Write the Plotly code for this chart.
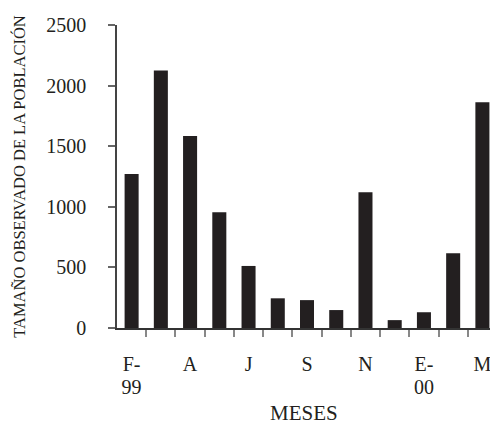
import plotly.graph_objects as go

# Observed population size per sampling month (Feb-99 .. 2000)
samples = list(range(13))
population = [1270, 2125, 1585, 955, 512, 245, 230, 148, 1120, 65, 130, 617, 1862]

# Month labels (first line) and year labels (second line)
label_pos = [0, 2, 4, 6, 8, 10, 12]
label_month = ["F-", "A", "J", "S", "N", "E-", "M"]
year_pos = [0, 10]
label_year = ["99", "00"]

y_ticks = [0, 500, 1000, 1500, 2000, 2500]
boundaries = [i + 0.5 for i in range(12)]

FONT = "Liberation Serif"
INK = "#231f20"
X_RANGE = [-0.5, 12.26]

fig = go.Figure()
fig.add_trace(go.Bar(
    x=samples, y=population, width=0.48,
    marker=dict(color=INK, line=dict(width=0)),
    showlegend=False, hoverinfo="skip",
))
# empty helpers so the label axes are drawn
fig.add_trace(go.Scatter(x=[], y=[], xaxis="x2", showlegend=False))
fig.add_trace(go.Scatter(x=[], y=[], xaxis="x3", showlegend=False))

fig.update_layout(
    width=490, height=427,
    margin=dict(l=117, r=0, t=25, b=99, pad=0, autoexpand=False),
    plot_bgcolor="white", paper_bgcolor="white",
    font=dict(family=FONT, color=INK),
    xaxis=dict(
        range=X_RANGE, showgrid=False, zeroline=False, automargin=False,
        showline=True, linecolor="#333333", linewidth=2,
        tickmode="array", tickvals=boundaries,
        ticks="outside", ticklen=7, tickwidth=1.5, tickcolor="#888888",
        showticklabels=False,
    ),
    xaxis2=dict(
        overlaying="x", anchor="y", side="bottom", range=X_RANGE, automargin=False,
        showgrid=False, zeroline=False, showline=False, ticks="",
        tickmode="array", tickvals=label_pos, ticktext=label_month,
        tickfont=dict(size=20, family=FONT, color=INK),
        ticklabelstandoff=22, ticklabeloverflow="allow",
    ),
    xaxis3=dict(
        overlaying="x", anchor="y", side="bottom", range=X_RANGE, automargin=False,
        showgrid=False, zeroline=False, showline=False, ticks="",
        tickmode="array", tickvals=year_pos, ticktext=label_year,
        tickfont=dict(size=20, family=FONT, color=INK),
        ticklabelstandoff=45, ticklabeloverflow="allow",
    ),
    yaxis=dict(
        range=[0, 2500], showgrid=False, zeroline=False, automargin=False,
        showline=True, linecolor="#444444", linewidth=1.5,
        tickmode="array", tickvals=y_ticks,
        ticks="outside", ticklen=7, tickwidth=1.5, tickcolor="#666666",
        tickfont=dict(size=20, family=FONT, color=INK),
        ticklabelstandoff=18,
        title=dict(text="TAMAÑO OBSERVADO DE LA POBLACIÓN",
                   font=dict(size=16.5, family=FONT, color=INK), standoff=16),
    ),
    annotations=[dict(
        text="MESES", xref="paper", yref="paper", x=0.5, y=-0.3267,
        xanchor="center", yanchor="bottom", showarrow=False,
        font=dict(size=21, family=FONT, color=INK),
    )],
)

fig.write_html("out.html")
